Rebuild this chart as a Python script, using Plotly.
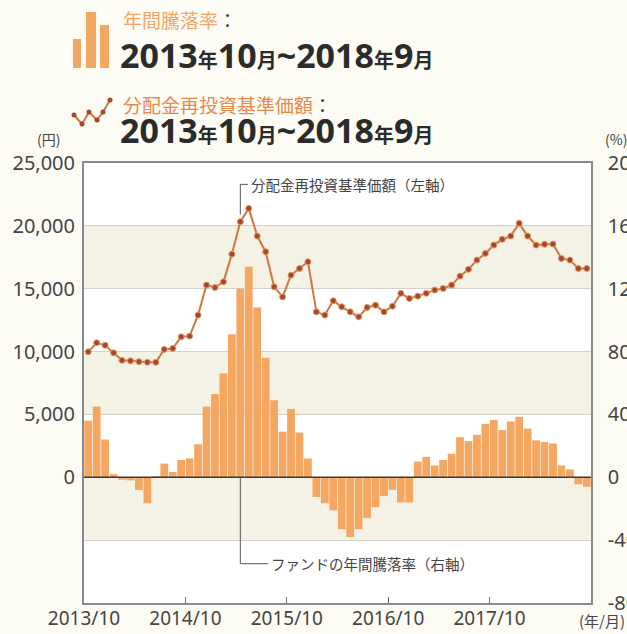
import plotly.graph_objects as go

# ---------------- data ----------------
months = [f"{2013 + (9 + i) // 12}/{(9 + i) % 12 + 1}" for i in range(60)]  # 2013/10 .. 2018/9

nav_yen = [9980, 10700, 10500, 9900, 9300, 9260, 9200, 9150, 9150, 10170,
           10250, 11170, 11230, 12900, 15290, 15100, 15550, 17750, 20330, 21390,
           19190, 17940, 15150, 14350, 16080, 16610, 17140, 13160, 12900, 14040,
           13560, 13160, 12760, 13510, 13690, 13160, 13610, 14630, 14230, 14410,
           14630, 14890, 15020, 15290, 16000, 16540, 17280, 17810, 18470, 18930,
           19190, 20200, 19190, 18470, 18530, 18550, 17410, 17280, 16610, 16610]

return_pct = [36, 45, 24, 2, -1.5, -2, -8, -16.5, 0.3, 8.7,
              3.4, 11, 12, 21, 45, 53, 66, 91, 120, 134,
              108, 76, 49, 29, 43.5, 28.5, 12, -12.5, -16.5, -21,
              -33, -38, -33, -26, -19, -12, -8, -16, -16, 10,
              13, 7.5, 11, 15, 25.5, 23, 27, 34, 36.5, 30,
              35.5, 38.5, 31, 23.5, 22.5, 21.5, 7.5, 5, -4.5, -6]

x_tick_labels = ["2013/10", "2014/10", "2015/10", "2016/10", "2017/10"]
x_tick_pos = [-0.5, 11.5, 23.5, 35.5, 47.5]
left_ticks = [-10000, -5000, 0, 5000, 10000, 15000, 20000, 25000]
left_labels = ["", "", "0", "5,000", "10,000", "15,000", "20,000", "25,000"]
right_ticks = [-80, -40, 0, 40, 80, 120, 160, 200]
right_labels = ["-80", "-40", "0", "40", "80", "120", "160", "200"]

# ---------------- layout constants ----------------
W_FIG, H_FIG = 627, 634
L, T, R, B = 84, 163, 591, 603
PW, PH = R - L, B - T

def px(x):
    return (x - L) / PW

def py(y):
    return (B - y) / PH

x = list(range(len(months)))

BAR = "#f5a660"
LINE = "#d0763f"
MARK = "#a5472a"
TXT = "#444444"
NUM_FONT = "Noto Sans"
JP_FONT = "Noto Sans CJK JP"

fig = go.Figure()

fig.add_trace(go.Bar(
    x=x, y=return_pct, yaxis="y", marker=dict(color=BAR, line=dict(width=0)),
    hovertext=months, showlegend=False))

fig.add_trace(go.Scatter(
    x=x, y=nav_yen, yaxis="y2", mode="lines+markers",
    line=dict(color=LINE, width=2),
    marker=dict(size=6, color=MARK, line=dict(color="#e39a62", width=1)),
    hovertext=months, showlegend=False))

shapes = []
# alternating beige bands (in % axis units)
for lo, hi in [(120, 160), (40, 80), (-40, 0)]:
    shapes.append(dict(type="rect", xref="paper", yref="y", x0=0, x1=1, y0=lo, y1=hi,
                       fillcolor="#f4f2e5", line=dict(width=0), layer="below"))
# zero line
shapes.append(dict(type="line", xref="paper", yref="y", x0=0, x1=1, y0=0, y1=0,
                   line=dict(color="#3a3a3a", width=1.5), layer="above"))
# leader lines (data coords)
shapes.append(dict(type="line", xref="x", yref="y2", x0=18, x1=18, y0=23300, y1=20900,
                   line=dict(color="#555", width=1), layer="above"))
shapes.append(dict(type="line", xref="x", yref="y2", x0=18, x1=18.9, y0=23300, y1=23300,
                   line=dict(color="#555", width=1), layer="above"))
shapes.append(dict(type="line", xref="x", yref="y", x0=18, x1=18, y0=0, y1=-55,
                   line=dict(color="#555", width=1), layer="above"))
shapes.append(dict(type="line", xref="x", yref="y", x0=18, x1=21.3, y0=-55, y1=-55,
                   line=dict(color="#555", width=1), layer="above"))

# legend icon: bars
for x0, x1, top in [(73, 81, 39), (86, 96, 12), (100, 109, 25)]:
    shapes.append(dict(type="rect", xref="paper", yref="paper", x0=px(x0), x1=px(x1),
                       y0=py(68), y1=py(top), fillcolor="#f0a862", line=dict(width=0)))
# legend icon: line with markers
icon_pts = [(74, 115), (82, 124), (89, 112), (97, 120), (103, 112), (110, 100)]
path = "M " + " L ".join(f"{px(a)},{py(b)}" for a, b in icon_pts)
shapes.append(dict(type="path", xref="paper", yref="paper", path=path,
                   line=dict(color=LINE, width=2)))
for a, b in icon_pts:
    shapes.append(dict(type="circle", xref="paper", yref="paper",
                       x0=px(a - 2.5), x1=px(a + 2.5), y0=py(b + 2.5), y1=py(b - 2.5),
                       fillcolor=MARK, line=dict(width=0)))

def period_text():
    big = f"font-family:'{NUM_FONT}';font-size:34px;font-weight:bold"
    sm = f"font-family:'{JP_FONT}';font-size:20px;font-weight:bold"
    return (f"<span style=\"{big}\">2013</span><span style=\"{sm}\">年</span>"
            f"<span style=\"{big}\">10</span><span style=\"{sm}\">月</span>"
            f"<span style=\"{big}\">~2018</span><span style=\"{sm}\">年</span>"
            f"<span style=\"{big}\">9</span><span style=\"{sm}\">月</span>")

annotations = [
    dict(xref="paper", yref="paper", x=px(121), y=py(35), xanchor="left", yanchor="bottom",
         text="<span style='color:#f2a565'>年間騰落率</span>：", showarrow=False,
         font=dict(family=JP_FONT, size=19, color="#333")),
    dict(xref="paper", yref="paper", x=px(118), y=py(30), xanchor="left", yanchor="top",
         text=period_text(), showarrow=False, font=dict(color="#2b2b2b", size=34)),
    dict(xref="paper", yref="paper", x=px(121), y=py(120), xanchor="left", yanchor="bottom",
         text="<span style='color:#e88a4c'>分配金再投資基準価額</span>：", showarrow=False,
         font=dict(family=JP_FONT, size=19, color="#333")),
    dict(xref="paper", yref="paper", x=px(118), y=py(105), xanchor="left", yanchor="top",
         text=period_text(), showarrow=False, font=dict(color="#2b2b2b", size=34)),
    dict(xref="paper", yref="paper", x=px(62), y=py(151), xanchor="right", yanchor="bottom",
         text="(円)", showarrow=False, font=dict(family=JP_FONT, size=14, color=TXT)),
    dict(xref="paper", yref="paper", x=px(603), y=py(151), xanchor="left", yanchor="bottom",
         text="(%)", showarrow=False, font=dict(family=JP_FONT, size=14, color=TXT)),
    dict(xref="paper", yref="paper", x=px(627), y=py(608), xanchor="right", yanchor="top",
         text="(年/月)", showarrow=False, font=dict(family=JP_FONT, size=15, color=TXT)),
    dict(xref="x", yref="y2", x=19.0, y=23300, xanchor="left", yanchor="middle",
         text="分配金再投資基準価額（左軸）", showarrow=False,
         font=dict(family=JP_FONT, size=14.5, color=TXT)),
    dict(xref="x", yref="y", x=21.4, y=-55, xanchor="left", yanchor="middle",
         text="ファンドの年間騰落率（右軸）", showarrow=False,
         font=dict(family=JP_FONT, size=14.5, color=TXT)),
]

fig.update_layout(
    width=W_FIG, height=H_FIG,
    margin=dict(l=L, r=W_FIG - R, t=T, b=H_FIG - B, pad=0, autoexpand=False),
    paper_bgcolor="#fcfbf4", plot_bgcolor="#ffffff",
    bargap=0.08, showlegend=False,
    shapes=shapes, annotations=annotations,
    xaxis=dict(range=[-0.5, 59.5], tickvals=x_tick_pos, ticktext=x_tick_labels,
               ticks="inside", ticklen=6, tickcolor="#666", showgrid=False, zeroline=False,
               showline=True, linecolor="#8a8a8a", linewidth=1.5, mirror=True,
               ticklabelstandoff=-3, automargin=False,
               tickfont=dict(family=NUM_FONT, size=19, color=TXT)),
    yaxis=dict(range=[-80, 200], tickvals=right_ticks, ticktext=right_labels, side="right",
               showgrid=True, gridcolor="#d2d2cc", gridwidth=1, zeroline=False,
               showline=True, linecolor="#8a8a8a", linewidth=1.5, mirror=True,
               ticks="", ticklabelstandoff=11, automargin=False,
               tickfont=dict(family=NUM_FONT, size=20, color=TXT)),
    yaxis2=dict(range=[-10000, 25000], tickvals=left_ticks, ticktext=left_labels,
                overlaying="y", side="left", showgrid=False, zeroline=False,
                ticks="", ticklabelstandoff=8, showline=False, automargin=False,
                tickfont=dict(family=NUM_FONT, size=20, color=TXT)),
)

fig.write_html("out.html", config={"displayModeBar": False},
               post_script="document.body.style.margin='0';document.body.style.overflow='hidden';")
